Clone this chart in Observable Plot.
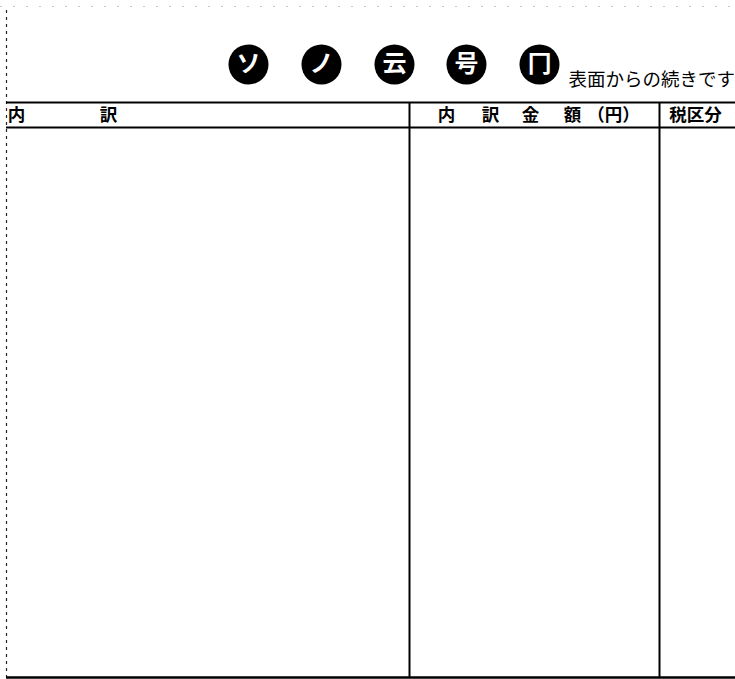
<!DOCTYPE html>
<html>
<head>
<meta charset="utf-8">
<script src="https://cdn.jsdelivr.net/npm/d3@7"></script>
<script src="https://cdn.jsdelivr.net/npm/@observablehq/plot@0.6"></script>
<style>
  html, body { margin: 0; padding: 0; background: #fff; }
  #chart svg { display: block; }
</style>
</head>
<body>
<div id="chart"></div>
<script>
// Title: white glyphs inside black discs, and the continuation note
const titleGlyphs = ["ソ", "ノ", "云", "号", "冂"];
const titleSlots = [248, 321, 394, 466, 539];
const titleNote = "表面からの続きです";

// Column headers (form units along the page width)
const leftHeaderChars = ["内", "訳"];
const leftHeaderSlots = [16, 108];
const amountHeaderChars = ["内", "訳", "金", "額", "（円）"];
const amountHeaderSlots = [446, 490, 530, 572, 613];
const taxHeader = "税区分";
const taxHeaderSlot = 695;

// Form grid (form units)
const columnDividers = [409, 659];
const headerRules = [102, 127];
const formTop = 102;
const formBottom = 677;
const formLeft = 6;
const formRight = 735;

const W = 735, H = 679;
const font = "'Noto Sans CJK JP', 'Noto Sans', sans-serif";

const chart = Plot.plot({
  width: W,
  height: H,
  margin: 0,
  style: { fontFamily: font, background: "#fff" },
  x: { domain: [0, W], range: [0, W], axis: null },
  y: { domain: [0, H], range: [0, H], axis: null },
  marks: [
    // faint dotted scan edge at top and left
    Plot.ruleY([6], { x1: 0, x2: W, stroke: "#555", strokeWidth: 1, strokeDasharray: "2,11", strokeOpacity: 0.35 }),
    Plot.ruleX([formLeft], { y1: 10, y2: formBottom, stroke: "#222", strokeWidth: 1.2, strokeDasharray: "3,4" }),
    // horizontal header rules
    Plot.ruleY(headerRules, { x1: formLeft, x2: formRight, stroke: "#000", strokeWidth: 2 }),
    // bottom rule
    Plot.ruleY([formBottom], { x1: formLeft, x2: formRight, stroke: "#000", strokeWidth: 2.5 }),
    // column dividers
    Plot.ruleX(columnDividers, { y1: formTop, y2: formBottom, stroke: "#000", strokeWidth: 2 }),
    // title discs
    Plot.dot(titleGlyphs, { x: (d, i) => titleSlots[i], y: 64, r: 20, fill: "#000", stroke: "none" }),
    Plot.text(titleGlyphs, { x: (d, i) => titleSlots[i], y: 64, text: d => d, fill: "#fff", fontSize: 24, fontWeight: "bold" }),
    Plot.text([titleNote], { x: 568, y: 80, text: d => d, textAnchor: "start", fill: "#000", fontSize: 18.5 }),
    // headers
    Plot.text(leftHeaderChars, { x: (d, i) => leftHeaderSlots[i], y: 115, text: d => d, fill: "#000", fontSize: 17.5, fontWeight: "bold" }),
    Plot.text(amountHeaderChars, { x: (d, i) => amountHeaderSlots[i], y: 115, text: d => d, fill: "#000", fontSize: 17.5, fontWeight: "bold" }),
    Plot.text([taxHeader], { x: taxHeaderSlot, y: 115, text: d => d, fill: "#000", fontSize: 17.5, fontWeight: "bold" })
  ]
});

document.getElementById("chart").appendChild(chart);
</script>
</body>
</html>
